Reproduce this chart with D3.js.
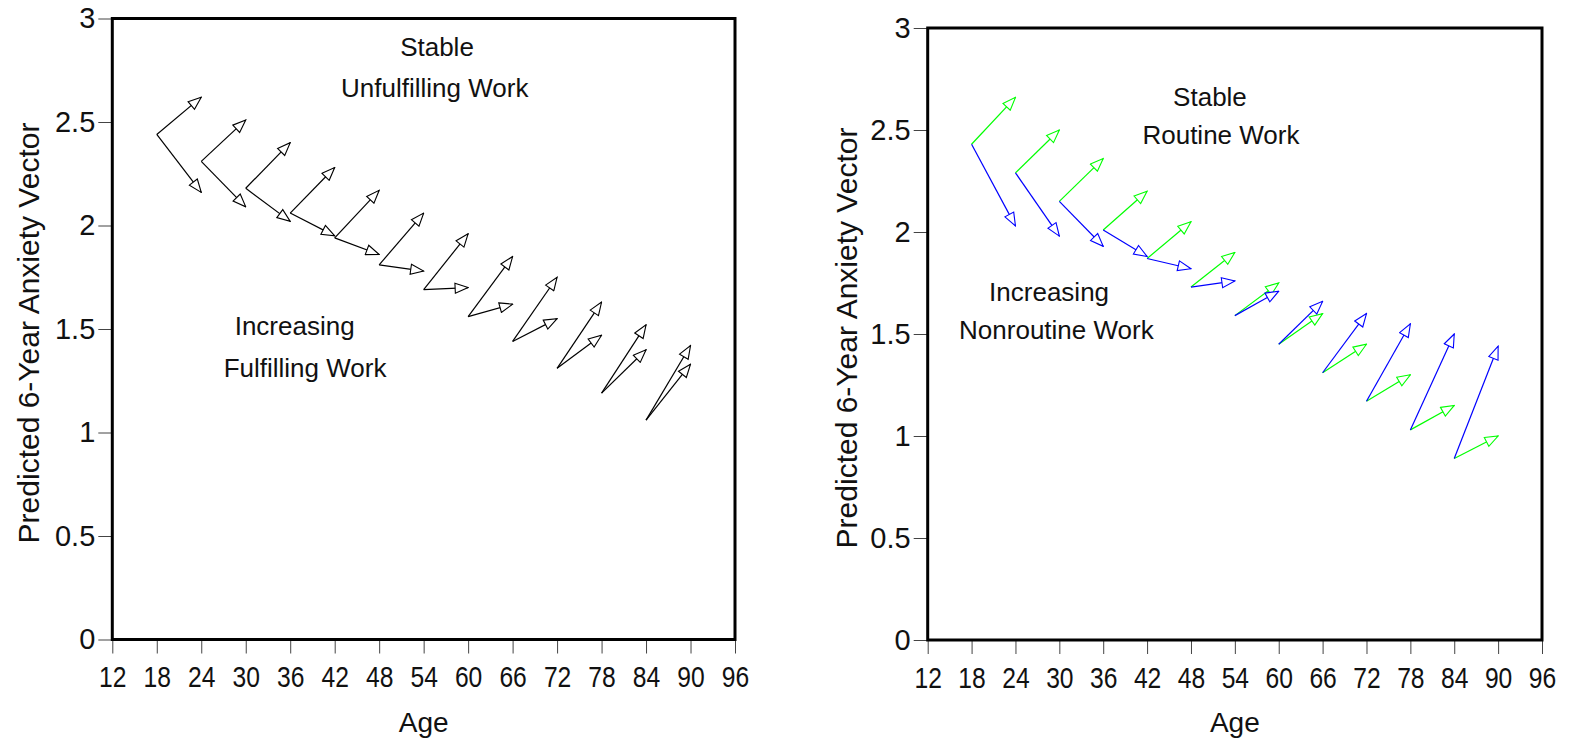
<!DOCTYPE html>
<html>
<head>
<meta charset="utf-8">
<script src="https://cdn.jsdelivr.net/npm/d3@7"></script>
<style>
  body { margin: 0; background: #fff; }
  svg text { font-family: "Liberation Sans", Arial, sans-serif; fill: #111; }
</style>
</head>
<body>
<div id="chart"></div>
<script>
// start ages of each 6-year vector
const ages = [18, 24, 30, 36, 42, 48, 54, 60, 66, 72, 78, 84];
const step = 6;

// left panel: fulfilling work
const leftBase       = [2.44, 2.31, 2.18, 2.06, 1.94, 1.81, 1.69, 1.56, 1.44, 1.31, 1.19, 1.06];
const leftStable     = [2.62, 2.51, 2.40, 2.28, 2.17, 2.06, 1.96, 1.85, 1.75, 1.63, 1.52, 1.42];
const leftIncreasing = [2.16, 2.09, 2.02, 1.95, 1.86, 1.78, 1.70, 1.62, 1.55, 1.47, 1.40, 1.33];

// right panel: routine work
const rightBase       = [2.43, 2.29, 2.15, 2.01, 1.87, 1.73, 1.59, 1.45, 1.31, 1.17, 1.03, 0.89];
const rightStable     = [2.66, 2.50, 2.36, 2.20, 2.05, 1.90, 1.75, 1.60, 1.45, 1.30, 1.15, 1.00];
const rightIncreasing = [2.03, 1.98, 1.93, 1.88, 1.82, 1.76, 1.71, 1.66, 1.60, 1.55, 1.50, 1.44];

const xTicks = d3.range(12, 97, 6);
const yTicks = [0, 0.5, 1, 1.5, 2, 2.5, 3];

const width = 1570, height = 743;

const svg = d3.select("#chart").append("svg")
    .attr("width", width)
    .attr("height", height);

svg.append("rect").attr("width", width).attr("height", height).attr("fill", "#fff");

const panels = [
    {
        id: "left", left: 112.3, right: 735, top: 18.5, bottom: 639.5, titleX: 28,
        base: leftBase,
        series: [
            { values: leftStable, color: "#000" },
            { values: leftIncreasing, color: "#000" }
        ],
        notes: [
            { text: "Stable", age: 55.8, v: 2.82 },
            { text: "Unfulfilling Work", age: 55.5, v: 2.62 },
            { text: "Increasing", age: 36.6, v: 1.47 },
            { text: "Fulfilling Work", age: 38, v: 1.27 }
        ]
    },
    {
        id: "right", left: 927.7, right: 1542, top: 28, bottom: 640, titleX: 846,
        base: rightBase,
        series: [
            { values: rightStable, color: "#00ff00" },
            { values: rightIncreasing, color: "#0000ff" }
        ],
        notes: [
            { text: "Stable", age: 50.6, v: 2.62 },
            { text: "Routine Work", age: 52.1, v: 2.43 },
            { text: "Increasing", age: 28.6, v: 1.66 },
            { text: "Nonroutine Work", age: 29.6, v: 1.475 }
        ]
    }
];

const defs = svg.append("defs");

function marker(id, color) {
    defs.append("marker")
        .attr("id", id)
        .attr("markerUnits", "userSpaceOnUse")
        .attr("viewBox", "0 0 15 12")
        .attr("markerWidth", 15)
        .attr("markerHeight", 12)
        .attr("refX", 14)
        .attr("refY", 6)
        .attr("orient", "auto")
        .append("path")
        .attr("d", "M1,1 L14,6 L1,11 Z")
        .attr("fill", "#fff")
        .attr("stroke", color)
        .attr("stroke-width", 1.1);
}

panels.forEach(p => {
    const x = d3.scaleLinear().domain([12, 96]).range([p.left, p.right]);
    const y = d3.scaleLinear().domain([0, 3]).range([p.bottom, p.top]);
    const g = svg.append("g").attr("class", p.id);

    // axes
    const yAxis = g.append("g")
        .attr("transform", `translate(${p.left},0)`)
        .call(d3.axisLeft(y).tickValues(yTicks).tickSize(14).tickPadding(3)
            .tickFormat(d3.format("~g")));
    const xAxis = g.append("g")
        .attr("transform", `translate(0,${p.bottom})`)
        .call(d3.axisBottom(x).tickValues(xTicks).tickSize(14).tickPadding(13));
    [yAxis, xAxis].forEach(a => {
        a.select(".domain").remove();
        a.selectAll(".tick line").attr("stroke", "#444");
        a.selectAll(".tick text")
            .attr("font-size", 29)
            .attr("fill", "#111")
            .style("font-family", "'Liberation Sans', Arial, sans-serif");
    });
    // the age labels are set in a narrow face
    xAxis.selectAll(".tick text").attr("transform", "scale(0.85,1)");

    // frame
    g.append("rect")
        .attr("x", p.left).attr("y", p.top)
        .attr("width", p.right - p.left).attr("height", p.bottom - p.top)
        .attr("fill", "none").attr("stroke", "#000").attr("stroke-width", 3);

    // axis titles
    g.append("text")
        .attr("x", (p.left + p.right) / 2)
        .attr("y", p.bottom + 92)
        .attr("text-anchor", "middle")
        .attr("font-size", 28)
        .text("Age");
    g.append("text")
        .attr("transform", `translate(${p.titleX},${(p.top + p.bottom) / 2 + 4}) rotate(-90)`)
        .attr("text-anchor", "middle")
        .attr("dy", "0.35em")
        .attr("font-size", 30)
        .text("Predicted 6-Year Anxiety Vector");

    // annotations
    g.selectAll("text.note")
        .data(p.notes)
        .enter()
        .append("text")
        .attr("class", "note")
        .attr("x", d => x(d.age))
        .attr("y", d => y(d.v))
        .attr("text-anchor", "middle")
        .attr("font-size", 26)
        .text(d => d.text);

    // vectors
    p.series.forEach((s, si) => {
        const mid = `arrow-${p.id}-${si}`;
        marker(mid, s.color);
        g.selectAll(`line.vec${si}`)
            .data(ages.map((a, i) => ({ a, from: p.base[i], to: s.values[i] })))
            .enter()
            .append("line")
            .attr("class", `vec${si}`)
            .attr("x1", d => x(d.a))
            .attr("y1", d => y(d.from))
            .attr("x2", d => x(d.a + step))
            .attr("y2", d => y(d.to))
            .attr("stroke", s.color)
            .attr("stroke-width", 1.2)
            .attr("marker-end", `url(#${mid})`);
    });
});
</script>
</body>
</html>
